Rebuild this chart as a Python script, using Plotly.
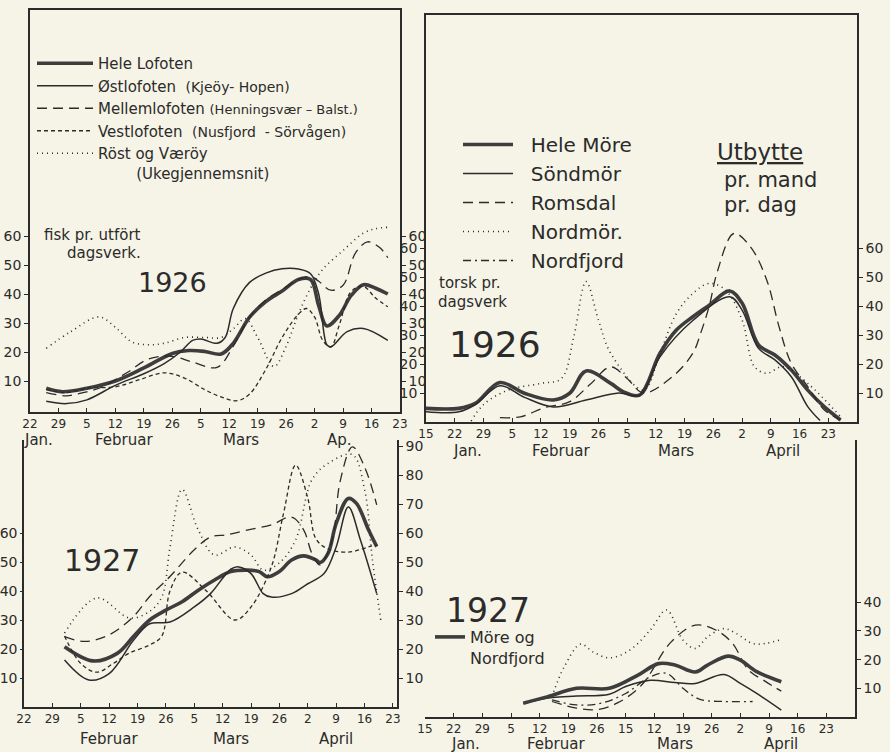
import plotly.graph_objects as go

W, H = 890, 752
BG = "#f6f4e6"
INK = "#2b2b2b"
THICK = "#3d3d3d"
FONT = "DejaVu Sans"

# ---------------- DATA ----------------
# Lofoten 1926 (fisk pr. utfört dagsverk)
lof26_hele_d = ["01-26","01-30","02-05","02-12","02-19","02-26","03-02","03-06","03-10","03-13","03-17","03-21","03-25","03-29","04-01","04-03","04-05","04-08","04-11","04-14","04-17","04-20"]
lof26_hele_v = [7.5,6.3,7.5,10,14.5,19.5,20.5,20.2,19.3,23,32,37.4,41,45,45,36,29,32.5,39.5,43.2,42,40]
lof26_ost_d = ["01-26","01-31","02-05","02-12","02-19","02-24","02-28","03-03","03-05","03-09","03-11","03-13","03-17","03-21","03-25","03-29","04-01","04-03","04-05","04-06","04-10","04-14","04-20"]
lof26_ost_v = [3,2.2,3.5,8.5,12.5,16,20,24,24.5,23,25,35,44,47.2,48.7,48.6,47,40,22.5,21.8,27,28.1,24]
lof26_mel_d = ["01-26","01-31","02-04","02-08","02-15","02-20","02-26","03-03","03-09","03-13","03-17","03-21","03-25","03-29","04-01","04-03","04-06","04-09","04-12","04-15","04-18","04-20"]
lof26_mel_v = [6,4.9,6,7.5,13,17.5,18.5,16.5,14.7,22,32,38,41.5,45,46,44.4,41.3,43,54,58,56,52.5]
lof26_ves_d = ["01-26","01-31","02-05","02-12","02-18","02-24","03-01","03-06","03-10","03-14","03-17","03-21","03-25","03-29","03-31","04-02","04-04","04-06","04-08","04-11","04-14","04-17","04-20"]
lof26_ves_v = [7,6,7.5,8,10.5,12.8,11,7,4.5,3.2,5.5,14,25,33,35,32,24,21.7,29,40.9,42.6,38.6,35.6]
lof26_rost_d = ["01-26","02-01","02-08","02-12","02-16","02-20","02-24","03-01","03-06","03-10","03-13","03-16","03-19","03-23","03-26","03-29","04-01","04-04","04-09","04-14","04-17","04-20"]
lof26_rost_v = [21.3,27,32.1,28.5,23.5,22.5,23,25,25,25,28,31.5,25,15,22,33,42,48.5,55,61,62.5,63]

# Möre 1926 (torsk pr. dagsverk)
mor26_hele_d = ["01-15","01-23","01-27","02-02","02-08","02-15","02-19","02-23","03-01","03-04","03-08","03-13","03-17","03-21","03-25","03-30","04-02","04-06","04-10","04-14","04-18","04-22","04-26"]
mor26_hele_v = [4.7,4.7,6.4,13.6,9.9,7.6,9.9,17.6,13.3,10.5,9.3,23.7,31.7,36.3,40.3,45.2,41,26.6,23.1,17.9,11,5.3,0.7]
mor26_sond_d = ["01-15","01-23","01-27","02-02","02-08","02-15","02-23","03-03","03-08","03-13","03-21","03-30","04-02","04-06","04-10","04-14","04-18","04-21"]
mor26_sond_v = [3.5,3.5,6,12.5,8.5,5.2,7.6,10,9.2,22.5,35,43.2,38.6,25.4,21.4,15.6,5.3,0.5]
mor26_roms_d = ["02-02","02-07","02-13","02-19","02-24","03-01","03-05","03-09","03-16","03-21","03-23","03-25","03-27","03-31","04-04","04-08","04-11","04-14","04-18","04-22","04-26"]
mor26_roms_v = [1.5,1.8,5,7,13,19,15,10,15.6,23.7,31,40,52,65,60.5,49,32.9,20.2,12.2,4.2,0.7]
mor26_nordm_d = ["01-26","01-29","02-04","02-12","02-17","02-20","02-23","02-26","03-01","03-09","03-13","03-17","03-21","03-25","03-29","04-02","04-05","04-08","04-12","04-18","04-26"]
mor26_nordm_v = [0.3,6,11,13.3,15,29.4,48.4,35.2,23.7,11,23.7,37.4,44.3,47.8,45.5,35.2,19.1,16.8,19.1,13.3,1.8]

# Lofoten 1927
lof27_hele_d = ["02-01","02-08","02-14","02-18","02-22","02-26","03-02","03-06","03-10","03-14","03-18","03-21","03-23","03-26","03-29","04-01","04-04","04-05","04-07","04-09","04-12","04-14","04-17","04-19"]
lof27_hele_v = [20.8,15.9,18.5,24.3,30,33.4,36.3,40.3,43.8,46.7,47.2,46.7,44.9,46.7,50.7,52.1,50.7,49.8,53,63.3,71.9,70.2,61,55.3]
lof27_ost_d = ["02-01","02-07","02-12","02-18","02-22","02-27","03-05","03-09","03-14","03-16","03-19","03-22","03-24","03-29","04-02","04-06","04-09","04-12","04-15","04-19"]
lof27_ost_v = [16.2,9.3,11.5,23,28.7,29.3,34.5,39.1,47.5,48.3,46,39.1,37.9,39.1,42.5,46,55.2,69,57.5,39.1]
lof27_mel_d = ["02-01","02-06","02-12","02-18","02-22","02-27","03-05","03-09","03-13","03-18","03-24","03-29","04-01","04-03","04-05","04-08","04-10","04-13","04-16","04-19"]
lof27_mel_v = [24.3,22.6,24.9,31.2,38.1,45,54.2,58.6,59.4,61,62.8,65.5,61,53,49,57.6,78,89.7,82.8,69.7]
lof27_ves_d = ["02-01","02-05","02-09","02-13","02-17","02-22","02-25","02-27","03-02","03-08","03-15","03-19","03-24","03-27","03-30","04-02","04-04","04-07","04-12","04-17","04-19"]
lof27_ves_v = [24.5,15,12,15,18.6,21.4,24.5,40,46.5,40,30,34.5,48.3,66.7,83.4,72,58,54.5,53.4,55.2,56]
lof27_rost_d = ["02-01","02-09","02-17","02-22","02-25","02-27","03-02","03-06","03-10","03-15","03-19","03-22","03-26","03-30","04-03","04-07","04-13","04-16","04-18","04-20"]
lof27_rost_v = [25.5,37.6,30.7,33,38,55,75,61,52.4,55.2,52.4,47.2,49.7,57.6,78.3,84,87,75,50,30]

# Möre og Nordfjord 1927
mor27_hele_d = ["02-08","02-14","02-21","03-01","03-08","03-13","03-17","03-22","03-25","03-30","04-02","04-06","04-12"]
mor27_hele_v = [4.8,7.1,10,10,14.6,18.6,18.1,15.7,18.1,21.2,19.8,15.8,12.3]
mor27_sond_d = ["02-08","02-15","02-21","03-01","03-05","03-11","03-17","03-22","03-29","04-02","04-06","04-12"]
mor27_sond_v = [4.8,6.8,7.3,7.9,10.6,12.8,12,11.7,14.8,11.7,8.2,2.4]
mor27_roms_d = ["02-15","02-21","02-26","03-03","03-09","03-16","03-22","03-27","03-31","04-04","04-08","04-12"]
mor27_roms_v = [5.4,3.1,2.6,4.9,11.3,26,32,30.3,25.8,16.4,12.5,9]
mor27_nordm_d = ["02-15","02-18","02-22","02-25","03-01","03-06","03-11","03-15","03-19","03-22","03-25","03-29","04-01","04-05","04-08","04-12"]
mor27_nordm_v = [7.1,17.5,25.4,22.7,20.6,23.3,30.3,37.3,26.8,23.9,27.9,30.8,29.1,25.6,25.6,27]
mor27_nordf_d = ["02-15","02-21","02-27","03-05","03-11","03-15","03-19","03-23","03-29","04-05"]
mor27_nordf_v = [6,4.2,4.8,8.2,14,15.2,10,6.2,5.4,5.4]

# Axis tick labels (weekly)
ticks_from_jan22 = ["01-22","01-29","02-05","02-12","02-19","02-26","03-05","03-12","03-19","03-26","04-02","04-09","04-16","04-23"]
ticktext_from_jan22 = ["22","29","5","12","19","26","5","12","19","26","2","9","16","23"]
ticks_from_jan15 = ["01-15","01-22","01-29","02-05","02-12","02-19","02-26","03-05","03-12","03-19","03-26","04-02","04-09","04-16","04-23"]
ticktext_from_jan15 = ["15","22","29","5","12","19","26","5","12","19","26","2","9","16","23"]
ticktext_br = ["15","22","29","5","12","19","26","15","12","19","26","2","9","16","23"]

months_tl = ["Jan.", "Februar", "Mars", "Ap."]
months_tl_at = ["01-24", "02-14", "03-15", "04-08"]
months_tr = ["Jan.", "Februar", "Mars", "April"]
months_tr_at = ["01-25", "02-17", "03-17", "04-12"]
months_bl = ["Jan", "Februar", "Mars", "April"]
months_bl_at = ["01-21", "02-12", "03-14", "04-09"]
months_br = ["Jan.", "Februar", "Mars", "April"]
months_br_at = ["01-25", "02-16", "03-17", "04-12"]

# ---------------- STYLES ----------------
STY = {
    "hele": dict(color=THICK, width=3.6),
    "thin": dict(color=INK, width=1.5),
    "long": dict(color=INK, width=1.3, dash="10px,6px"),
    "short": dict(color=INK, width=1.3, dash="4px,3px"),
    "dot": dict(color=INK, width=1.6, dash="1px,4px"),
    "dashdot": dict(color=INK, width=1.3, dash="8px,4px,2px,4px"),
}


def dts(year, md):
    return [f"{year}-{s}" for s in md]


fig = go.Figure()


def add(xa, ya, year, md, vals, style, name, legend="legend", show=False):
    fig.add_trace(go.Scatter(
        x=dts(year, md), y=vals, mode="lines", name=name,
        line=dict(shape="spline", smoothing=1.0, **STY[style]),
        xaxis=xa, yaxis=ya, legend=legend, showlegend=show, hoverinfo="skip"))


def P(t, s):
    return f"<span style='font-size:{s}px'>{t}</span>"


SP2 = "  "
add("x", "y", 1926, lof26_hele_d, lof26_hele_v, "hele", "Hele Lofoten", "legend", True)
add("x", "y", 1926, lof26_ost_d, lof26_ost_v, "thin", "Østlofoten  " + P("(Kjeöy- Hopen)", 14), "legend", True)
add("x", "y", 1926, lof26_mel_d, lof26_mel_v, "long", "Mellemlofoten " + P("(Henningsvær – Balst.)", 13), "legend", True)
add("x", "y", 1926, lof26_ves_d, lof26_ves_v, "short", "Vestlofoten  " + P("(Nusfjord  - Sörvågen)", 14), "legend", True)
add("x", "y", 1926, lof26_rost_d, lof26_rost_v, "dot", "Röst og Væröy<br>        (Ukegjennemsnit)", "legend", True)

add("x2", "y2", 1926, mor26_hele_d, mor26_hele_v, "hele", SP2 + "Hele Möre", "legend2", True)
add("x2", "y2", 1926, mor26_sond_d, mor26_sond_v, "thin", SP2 + "Söndmör", "legend2", True)
add("x2", "y2", 1926, mor26_roms_d, mor26_roms_v, "long", SP2 + "Romsdal", "legend2", True)
add("x2", "y2", 1926, mor26_nordm_d, mor26_nordm_v, "dot", SP2 + "Nordmör.", "legend2", True)

add("x3", "y3", 1927, lof27_hele_d, lof27_hele_v, "hele", "Hele Lofoten 1927")
add("x3", "y3", 1927, lof27_ost_d, lof27_ost_v, "thin", "Østlofoten 1927")
add("x3", "y3", 1927, lof27_mel_d, lof27_mel_v, "long", "Mellemlofoten 1927")
add("x3", "y3", 1927, lof27_ves_d, lof27_ves_v, "short", "Vestlofoten 1927")
add("x3", "y3", 1927, lof27_rost_d, lof27_rost_v, "dot", "Röst og Væröy 1927")

add("x4", "y4", 1927, mor27_sond_d, mor27_sond_v, "thin", "Söndmör 1927")
add("x4", "y4", 1927, mor27_roms_d, mor27_roms_v, "long", "Romsdal 1927")
add("x4", "y4", 1927, mor27_nordm_d, mor27_nordm_v, "dot", "Nordmör 1927")
add("x4", "y4", 1927, mor27_nordf_d, mor27_nordf_v, "dashdot", SP2 + "Nordfjord", "legend2", True)
add("x4", "y4", 1927, mor27_hele_d, mor27_hele_v, "hele", "Möre og<br>Nordfjord", "legend3", True)

# empty traces so that the right-hand scale axes are rendered
for xa, ya in (("x", "y5"), ("x2", "y6"), ("x3", "y7")):
    fig.add_trace(go.Scatter(x=[], y=[], xaxis=xa, yaxis=ya, showlegend=False, hoverinfo="skip"))


# ---------------- AXES ----------------
def px(x):
    return x / W


def py(y):
    return 1 - y / H


def xax(d0, d1, year, r0, r1, tv, tt, anchor, mirror):
    return dict(domain=[px(d0), px(d1)], range=[f"{year}-{r0}", f"{year}-{r1}"], type="date",
                tickmode="array", tickvals=dts(year, tv), ticktext=tt,
                showline=True, linecolor=INK, linewidth=1.5, mirror=mirror,
                ticks="inside", ticklen=4, tickcolor=INK, tickwidth=1,
                showgrid=False, zeroline=False, anchor=anchor, automargin=False,
                tickfont=dict(size=12, color=INK), fixedrange=True)


def yax(rng, tv, anchor, side="left", dom=None, overlaying=None, ticklen=4):
    d = dict(range=rng, tickmode="array", tickvals=tv, ticktext=[str(v) for v in tv],
             showline=True, linecolor=INK, linewidth=1.5, ticks="outside", ticklen=ticklen,
             tickcolor=INK, showgrid=False, zeroline=False, anchor=anchor, side=side,
             automargin=False, tickfont=dict(size=14, color=INK), fixedrange=True)
    if dom is not None:
        d["domain"] = dom
    if overlaying:
        d["overlaying"] = overlaying
    return d


tl_rng = [-(412 - 410) / 2.9, (410 - 10) / 2.9]
tr_rng = [0, (422 - 15) / 2.9]
bl_rng = [0, (707 - 440) / 2.9]
br_rng = [0, (717 - 440) / 2.87]
t6 = [10, 20, 30, 40, 50, 60]

layout = dict(
    width=W, height=H, margin=dict(l=0, r=0, t=0, b=0, autoexpand=False),
    paper_bgcolor=BG, plot_bgcolor=BG,
    font=dict(family=FONT, color=INK, size=13),
    xaxis=xax(30, 400, 1926, "01-22", "04-23", ticks_from_jan22, ticktext_from_jan22, "y", True),
    xaxis2=xax(426, 857, 1926, "01-15", "04-30", ticks_from_jan15, ticktext_from_jan15, "y2", True),
    xaxis3=xax(24, 397, 1927, "01-22", "04-24", ticks_from_jan22, ticktext_from_jan22, "y3", False),
    xaxis4=xax(425, 855, 1927, "01-15", "04-30", ticks_from_jan15, ticktext_br, "y4", False),
    yaxis=yax(tl_rng, t6, "x", "left", [py(412), py(10)]),
    yaxis5=yax(tl_rng, t6, "x", "right", overlaying="y"),
    yaxis2=yax(tr_rng, t6, "x2", "left", [py(422), py(15)]),
    yaxis6=yax(tr_rng, t6, "x2", "right", overlaying="y2"),
    yaxis3=yax(bl_rng, t6, "x3", "left", [py(707), py(440)], ticklen=2),
    yaxis7=yax(bl_rng, [10, 20, 30, 40, 50, 60, 70, 80, 90], "x3", "right", overlaying="y3"),
    yaxis4=yax(br_rng, [10, 20, 30, 40], "x4", "right", [py(717), py(440)]),
    legend=dict(x=px(32), y=py(47), xanchor="left", yanchor="top", bgcolor="rgba(0,0,0,0)",
                font=dict(size=15, color=INK), itemwidth=56, tracegroupgap=0, itemclick=False,
                valign="top"),
    legend2=dict(x=px(458), y=py(125), xanchor="left", yanchor="top", bgcolor="rgba(0,0,0,0)",
                 font=dict(size=20, color=INK), itemwidth=50, itemclick=False, valign="top"),
    legend3=dict(x=px(430), y=py(620), xanchor="left", yanchor="top", bgcolor="rgba(0,0,0,0)",
                 font=dict(size=16, color=INK), itemwidth=30, itemclick=False, valign="top"),
)
fig.update_layout(**layout)

ann = []


def text(t, x, y, size, xanchor="left"):
    ann.append(dict(text=t, x=px(x), y=py(y), xref="paper", yref="paper", xanchor=xanchor,
                    yanchor="middle", showarrow=False, font=dict(size=size, color=INK, family=FONT)))


text("fisk pr. utfört", 42, 235, 15)
text("dagsverk.", 65, 253, 15)
text("1926", 172, 282, 27, "center")
text("torsk pr.", 437, 283, 15)
text("dagsverk", 436, 302, 15)
text("1926", 495, 345, 36, "center")
text("<span style='text-decoration:underline'>Utbytte</span>", 760, 152, 23, "center")
text("pr. mand", 722, 180, 21)
text("pr. dag", 722, 205, 21)
text("1927", 102, 560, 30, "center")
text("1927", 488, 610, 33, "center")


def months(names, at, year, xref, ypix):
    for n, a in zip(names, at):
        ann.append(dict(text=n, x=f"{year}-{a}", y=py(ypix), xref=xref, yref="paper",
                        xanchor="center", yanchor="middle", showarrow=False,
                        font=dict(size=15, color=INK, family=FONT)))


months(months_tl, months_tl_at, 1926, "x", 440)
months(months_tr, months_tr_at, 1926, "x2", 451)
months(months_bl, months_bl_at, 1927, "x3", 739)
months(months_br, months_br_at, 1927, "x4", 744)

fig.update_layout(annotations=ann)
fig.write_html(
    "out.html",
    config={"displayModeBar": False},
    post_script="document.body.style.margin='0';document.body.style.padding='0';"
                "document.body.style.overflow='hidden';document.documentElement.style.overflow='hidden';",
)
